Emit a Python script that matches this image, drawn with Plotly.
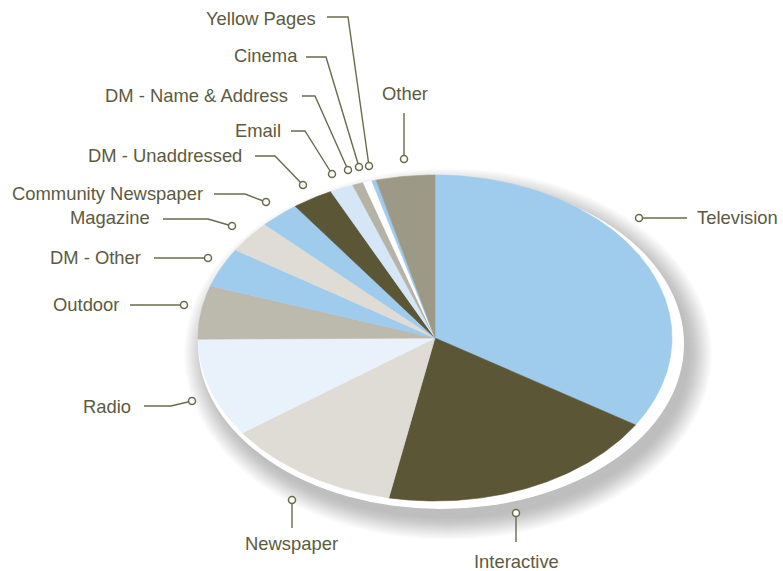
import numpy as np
import plotly.graph_objects as go

# ---- data ----
categories = ["Television", "Interactive", "Newspaper", "Radio", "Outdoor", "DM - Other",
              "Magazine", "Community Newspaper", "DM - Unaddressed", "Email",
              "DM - Name & Address", "Cinema", "Yellow Pages", "Other"]
shares = [34.0, 19.2, 12.0, 9.8, 5.3, 3.9, 3.2, 2.7, 2.8, 1.6, 0.75, 0.6, 0.3, 4.0]
colors = ["#9fcbec", "#5a5636", "#dedcd4", "#e9f2fb", "#bcb9ad", "#9fcbec",
          "#dedcd4", "#9fcbec", "#5a5636", "#d5e7f7", "#b5b3a6", "#ffffff",
          "#9fcbec", "#9c9a87"]

# ---- layout (pixel space) ----
W, H = 783, 571
CX, CY, RX, RY = 435, 338, 237, 163
TEXT = "#5c5b3e"
LINE = "#6b6a4c"
FONT = "Liberation Sans, Arial, sans-serif"

# label placement: text anchor, alignment, leader path (last point gets the dot)
labels = {
    "Television": ((695, 217), "left", [(687, 218), (639, 218)]),
    "Interactive": ((516, 561), "center", [(516, 542), (516, 513)]),
    "Newspaper": ((291, 543), "center", [(292, 528), (292, 500)]),
    "Radio": ((133, 406), "right", [(144, 406), (171, 406), (192, 401)]),
    "Outdoor": ((121, 304), "right", [(130, 305), (184, 305)]),
    "DM - Other": ((143, 257), "right", [(154, 258), (208, 258)]),
    "Magazine": ((152, 217), "right", [(163, 219), (208, 219), (232, 226)]),
    "Community Newspaper": ((205, 193), "right", [(214, 194), (245, 194), (266, 202)]),
    "DM - Unaddressed": ((244, 155), "right", [(255, 156), (275, 156), (303, 185)]),
    "Email": ((283, 130), "right", [(291, 131), (305, 131), (332, 174)]),
    "DM - Name & Address": ((290, 95), "right", [(302, 96), (315, 96), (348, 170)]),
    "Cinema": ((300, 55), "right", [(306, 57), (326, 57), (359, 167)]),
    "Yellow Pages": ((318, 18), "right", [(327, 17), (348, 17), (369, 166)]),
    "Other": ((405, 93), "center", [(404, 113), (404, 159)]),
}

fig = go.Figure()

# wedges
total = sum(shares)
cum = np.concatenate([[0], np.cumsum(shares)]) / total * 2 * np.pi
for name, c, a0, a1 in zip(categories, colors, cum[:-1], cum[1:]):
    t = np.linspace(a0, a1, max(4, int((a1 - a0) / 0.01)))
    xs = np.concatenate([[CX], CX + RX * np.sin(t), [CX]])
    ys = np.concatenate([[CY], CY - RY * np.cos(t), [CY]])
    fig.add_trace(go.Scatter(x=xs, y=ys, fill="toself", fillcolor=c, mode="lines",
                             line=dict(color=c, width=0.6), hoverinfo="text",
                             text=name, showlegend=False))

# leader lines and labels
for name in categories:
    (tx, ty), align, path = labels[name]
    px = [p[0] for p in path]
    py = [p[1] for p in path]
    fig.add_trace(go.Scatter(x=px, y=py, mode="lines", line=dict(color=LINE, width=1.4),
                             hoverinfo="skip", showlegend=False))
    fig.add_trace(go.Scatter(x=[px[-1]], y=[py[-1]], mode="markers",
                             marker=dict(symbol="circle", size=7, color="white",
                                         line=dict(color=LINE, width=1.5)),
                             hoverinfo="skip", showlegend=False))
    fig.add_annotation(x=tx, y=ty, text=name, showarrow=False, xanchor=align,
                       yanchor="middle", font=dict(family=FONT, size=18.4, color=TEXT))

# soft shadow + white rim behind the pie
shapes = []
n = 24
for i in range(n):
    k = n - i
    shapes.append(dict(type="circle", layer="below", xref="x", yref="y",
                       x0=448 - 240 - k * 1.0, x1=448 + 240 + k * 1.0,
                       y0=354 - 163 - k * 0.95, y1=354 + 163 + k * 0.95,
                       fillcolor="rgba(115,113,95,0.018)", line=dict(width=0)))
shapes.append(dict(type="circle", layer="below", xref="x", yref="y",
                   x0=441 - 243, x1=441 + 243, y0=344 - 165, y1=344 + 165,
                   fillcolor="white", line=dict(width=0)))

fig.update_layout(
    width=W, height=H, margin=dict(l=0, r=0, t=0, b=0),
    paper_bgcolor="white", plot_bgcolor="white", shapes=shapes,
    xaxis=dict(range=[0, W], visible=False, fixedrange=True),
    yaxis=dict(range=[H, 0], visible=False, fixedrange=True),
    showlegend=False,
)

fig.write_html("out.html")
